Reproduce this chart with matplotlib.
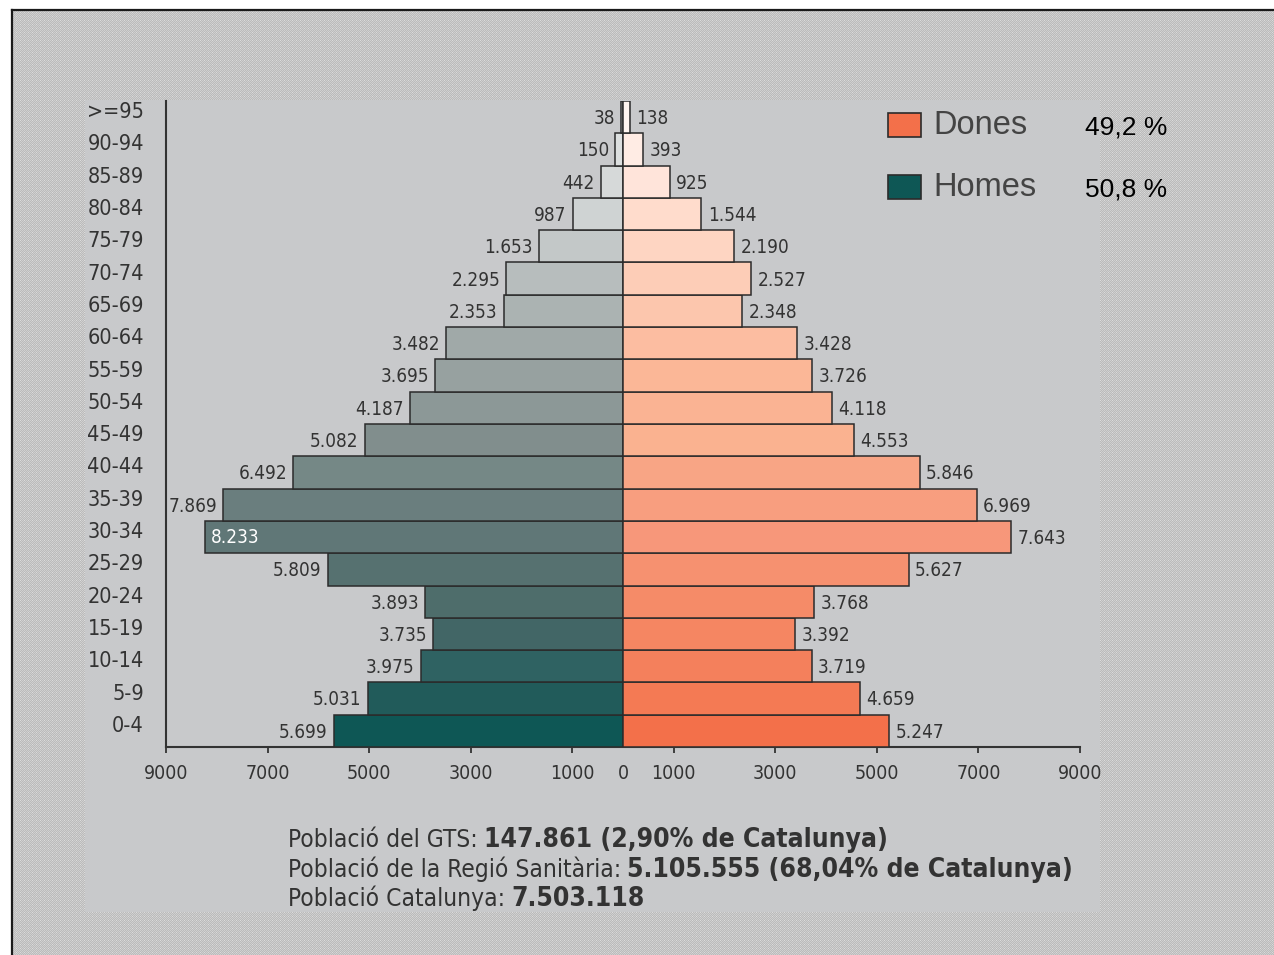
import numpy as np
import matplotlib
matplotlib.use("Agg")
import matplotlib.pyplot as plt
from matplotlib import font_manager as fm
from matplotlib.patches import Rectangle
from matplotlib.lines import Line2D
from matplotlib.font_manager import FontProperties
import matplotlib.transforms as mtransforms

# ---------------- data ----------------
ages = ['0-4', '5-9', '10-14', '15-19', '20-24', '25-29', '30-34', '35-39',
        '40-44', '45-49', '50-54', '55-59', '60-64', '65-69', '70-74',
        '75-79', '80-84', '85-89', '90-94', '>=95']
homes = [5699, 5031, 3975, 3735, 3893, 5809, 8233, 7869, 6492, 5082,
         4187, 3695, 3482, 2353, 2295, 1653, 987, 442, 150, 38]
dones = [5247, 4659, 3719, 3392, 3768, 5627, 7643, 6969, 5846, 4553,
         4118, 3726, 3428, 2348, 2527, 2190, 1544, 925, 393, 138]
series_names = ['Dones', 'Homes']
series_pct = ['49,2 %', '50,8 %']
xtick_values = [-9000, -7000, -5000, -3000, -1000, 0, 1000, 3000, 5000, 7000, 9000]
xtick_labels = ['9000', '7000', '5000', '3000', '1000', '0', '1000', '3000', '5000', '7000', '9000']
footer_regular = ['Població del GTS:', 'Població de la Regió Sanitària:', 'Població Catalunya:']
footer_bold = ['147.861 (2,90% de Catalunya)', '5.105.555 (68,04% de Catalunya)', '7.503.118']

# ---------------- style ----------------
homes_colors = ['#0e5755', '#215b5a', '#2f6262', '#426666', '#4e6d6b', '#567170',
                '#607777', '#6a7e7e', '#758886', '#818e8d', '#8c9897', '#97a1a0',
                '#a0a9a8', '#abb3b2', '#b7bdbd', '#c3c8c8', '#cfd3d3', '#d6d9d9',
                '#dcdfdf', '#e4e6e6']
dones_colors = ['#f3704a', '#f47a54', '#f4805c', '#f58662', '#f58b68', '#f69170',
                '#f7977a', '#f89e7f', '#f8a585', '#fab290', '#fab393', '#fbb797',
                '#fcbda1', '#fcc6ad', '#fdcdb7', '#fed5c2', '#ffdccc', '#ffe4da',
                '#ffece4', '#fff5f0']
TXT = '#333333'
EDGE = '#2b2b2b'

ttf = fm.fontManager.ttflist
def has(name, stretch=None):
    return any(f.name == name and (stretch is None or f.stretch == stretch) for f in ttf)

if has('DejaVu Sans', 'condensed'):
    NARROW = dict(family='DejaVu Sans', stretch='condensed')
elif has('Liberation Sans Narrow'):
    NARROW = dict(family='Liberation Sans Narrow')
else:
    NARROW = dict(family='DejaVu Sans')

def nf(size, weight='normal'):
    return FontProperties(size=size, weight=weight, **NARROW)

W, H = 1274, 955
fig = plt.figure(figsize=(W / 100, H / 100), dpi=100)
fig.patch.set_facecolor('white')

def fx(px):
    return px / W

def fy(py):
    return 1 - py / H

# patterned background
yy, xx = np.mgrid[0:H, 0:W]
pat = np.where(((xx + yy) % 2) == 0, 0.815, 0.735)
pat = np.where(((xx % 4) == 0) & ((yy % 4) == 0), 0.86, pat)
img = np.dstack([pat, pat, pat])
img[:10, :, :] = 1.0
img[:, :12, :] = 1.0
fig.figimage(img, xo=0, yo=0, origin='upper', zorder=0)

# frame lines
fig.add_artist(Line2D([fx(12), 1.0], [fy(10), fy(10)], transform=fig.transFigure,
                      color='#1a1a1a', lw=1.6, zorder=1))
fig.add_artist(Line2D([fx(12), fx(12)], [fy(10), 0.0], transform=fig.transFigure,
                      color='#1a1a1a', lw=1.6, zorder=1))

# inner panel
fig.add_artist(Rectangle((fx(85), fy(912)), (1100 - 85) / W, (912 - 100) / H,
                         transform=fig.transFigure, facecolor='#c8c9cb',
                         edgecolor='none', zorder=1))

# ---------------- axes ----------------
ax = fig.add_axes([fx(166), fy(747), (1080 - 166) / W, (747 - 101) / H])
ax.set_zorder(3)
ax.patch.set_visible(False)

y = np.arange(len(ages))
ax.barh(y, [-v for v in homes], height=1.0, color=homes_colors,
        edgecolor=EDGE, linewidth=1.1, zorder=3)
ax.barh(y, dones, height=1.0, color=dones_colors,
        edgecolor=EDGE, linewidth=1.1, zorder=3)

ax.set_xlim(-9000, 9000)
ax.set_ylim(-0.5, len(ages) - 0.5)

def fmt(v):
    return f"{v:,}".replace(',', '.')

VS = 13.6
for i, v in enumerate(homes):
    if v > 8000:
        ax.annotate(fmt(v), xy=(-v, i), xytext=(4, -0.5), textcoords='offset points',
                    ha='left', va='center', color='white', fontproperties=nf(VS), zorder=5)
    else:
        ax.annotate(fmt(v), xy=(-v, i), xytext=(-4.5, -1), textcoords='offset points',
                    ha='right', va='center', color=TXT, fontproperties=nf(VS), zorder=5)
for i, v in enumerate(dones):
    ax.annotate(fmt(v), xy=(v, i), xytext=(4.5, -1), textcoords='offset points',
                ha='left', va='center', color=TXT, fontproperties=nf(VS), zorder=5)

for s in ['top', 'right']:
    ax.spines[s].set_visible(False)
for s in ['left', 'bottom']:
    ax.spines[s].set_color(TXT)
    ax.spines[s].set_linewidth(1.5)

ax.set_xticks(xtick_values)
ax.set_xticklabels(xtick_labels)
ax.set_yticks(y)
ax.set_yticklabels(ages)
ax.tick_params(axis='x', length=4.5, width=1.3, color=TXT, pad=8, labelcolor=TXT)
ax.tick_params(axis='y', length=0, pad=16, labelcolor=TXT)
for t in ax.get_xticklabels():
    t.set_fontproperties(nf(14))
for t in ax.get_yticklabels():
    t.set_fontproperties(nf(15.5))
    t.set_transform(t.get_transform() + mtransforms.ScaledTranslation(0, 7 / 100, fig.dpi_scale_trans))
# no tick mark at zero
ax.xaxis.get_major_ticks()[xtick_values.index(0)].tick1line.set_visible(False)

# ---------------- legend ----------------
leg_colors = [dones_colors[0], homes_colors[0]]
leg_y = [125, 187]
for name, col, yc, pct in zip(series_names, leg_colors, leg_y, series_pct):
    fig.add_artist(Rectangle((fx(888), fy(yc + 12)), 33 / W, 24 / H,
                             transform=fig.transFigure, facecolor=col,
                             edgecolor=EDGE, linewidth=1.2, zorder=4))
    fig.text(fx(933), fy(yc), name, ha='left', va='center', color='#444444',
             family='Liberation Sans', fontsize=23.5, zorder=4)
    fig.text(fx(1085), fy(yc + 3), pct, ha='left', va='center', color='black',
             family='Liberation Sans', fontsize=19, zorder=4)

# ---------------- footer ----------------
footer_base = [847, 877, 906]
FS_REG = 17.6
FS_BOLD = 19.0
for reg, bold, yb in zip(footer_regular, footer_bold, footer_base):
    t1 = fig.text(fx(288), fy(yb), reg, ha='left', va='baseline', color=TXT,
                  fontproperties=nf(FS_REG), zorder=4)
    ax.annotate(bold, xy=(1, fy(yb)), xycoords=(t1, 'figure fraction'),
                xytext=(4.5, 0), textcoords='offset points',
                ha='left', va='baseline', color=TXT, fontproperties=nf(FS_BOLD, 'bold'),
                annotation_clip=False, zorder=6)

fig.savefig('out.png', dpi=100, facecolor=fig.get_facecolor())
